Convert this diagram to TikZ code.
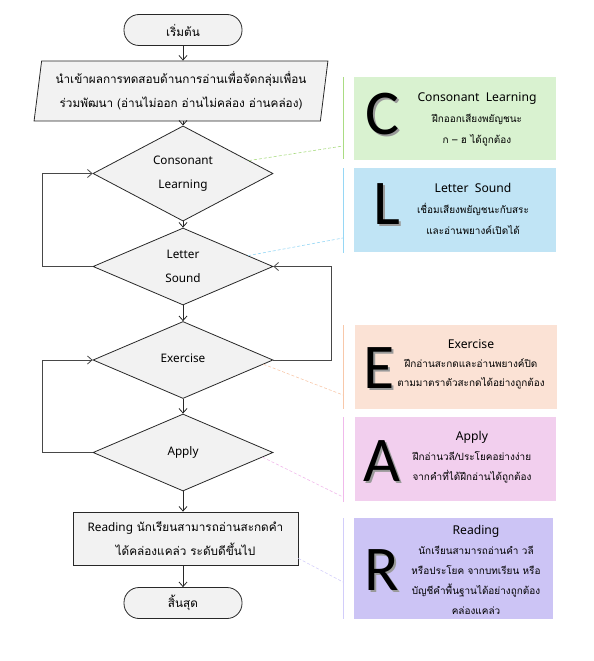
\documentclass[tikz,border=0pt]{standalone}
\usepackage{fontspec}
\setmainfont[Script=Thai]{Loma}
\newfontfamily\latf{Noto Sans}
\newfontfamily\capf{Carlito}
\newcommand\pheadf{\latf\fontsize{12.2}{21}\selectfont}
\newcommand\shadowlet[1]{\rlap{\kern2bp\raisebox{-2bp}{\color{black!40}#1}}#1}
\usetikzlibrary{shapes.geometric,arrows.meta,calc}
\definecolor{flowfill}{RGB}{242,242,242}
\definecolor{flowline}{RGB}{40,40,40}
\definecolor{cfill}{RGB}{217,242,208}
\definecolor{cline}{RGB}{170,220,130}
\definecolor{lfill}{RGB}{192,228,245}
\definecolor{lline}{RGB}{150,215,245}
\definecolor{efill}{RGB}{251,226,213}
\definecolor{eline}{RGB}{248,200,170}
\definecolor{afill}{RGB}{242,207,238}
\definecolor{aline}{RGB}{240,185,235}
\definecolor{rfill}{RGB}{204,196,245}
\definecolor{rline}{RGB}{210,205,250}
\begin{document}
\begin{tikzpicture}[x=1bp,y=-1bp,
  base/.style={draw=flowline, fill=flowfill, line width=0.8bp, inner sep=0pt, align=center,
    font=\fontsize{11.8}{24}\selectfont},
  term/.style={base, rectangle, rounded corners=15bp, minimum width=118bp, minimum height=31bp},
  io/.style={base, trapezium, trapezium left angle=80, trapezium right angle=100,
    trapezium stretches=true, minimum width=295bp, minimum height=60bp},
  dec/.style={base, diamond, minimum width=180bp, minimum height=77bp},
  proc/.style={base, rectangle, minimum width=225bp, minimum height=53bp},
  flow/.style={draw=flowline, line width=0.8bp, -{Straight Barb[length=4.5bp,width=8bp]}},
  loop/.style={flow, draw=flowline!85},
  panel/.style={rectangle, inner sep=0pt, draw=none},
  ptext/.style={align=center, inner sep=0pt, font=\fontsize{10}{21}\selectfont},
  bigl/.style={inner sep=0pt, font=\capf\fontsize{64}{64}\selectfont},
  note/.style={dashed, dash pattern=on 3bp off 2bp, line width=0.6bp},
  brk/.style={line width=0.8bp}
]
\useasboundingbox (0,0) rectangle (594,661);

% ---------- flowchart ----------
\node[term] (start) at (183,30) {เริ่มต้น};
\node[io] (input) at (181,91) {นำเข้าผลการทดสอบด้านการอ่านเพื่อจัดกลุ่มเพื่อน\\ร่วมพัฒนา (อ่านไม่ออก อ่านไม่คล่อง อ่านคล่อง)};
\node[dec] (d1) at (183,173.5) {\latf Consonant\\\latf Learning};
\node[dec] (d2) at (183,266.5) {\latf Letter\\\latf Sound};
\node[dec] (d3) at (183,360) {\raisebox{4bp}{\latf Exercise}};
\node[dec] (d4) at (183,452.5) {\raisebox{1bp}{\latf Apply}};
\node[proc] (proc) at (185.5,538.5) {{\latf Reading} นักเรียนสามารถอ่านสะกดคำ\\ได้คล่องแคล่ว ระดับดีขึ้นไป};
\node[term] (stop) at (183,603) {สิ้นสุด};

\draw[flow] (start) -- (start |- input.north);
\draw[flow] (start |- input.south) -- (d1.north);
\draw[flow] (d1) -- (d2);
\draw[flow] (d2) -- (d3);
\draw[flow] (d3) -- (d4);
\draw[flow] (d4.south) -- (d4.south |- proc.north);
\draw[flow] (d4.south |- proc.south) -- (stop.north);

\draw[loop] (d2.west) -- ++(-50,0) |- (d1.west);
\draw[loop] (d3.east) -- ++(58,0) |- (d2.east);
\draw[loop] (d4.west) -- ++(-50,0) |- (d3.west);

% ---------- panels ----------
\node[panel, fill=cfill, minimum width=202bp, minimum height=83bp] (pC) at (455,118.5) {};
\node[panel, fill=lfill, minimum width=202bp, minimum height=84bp] (pL) at (455,210) {};
\node[panel, fill=efill, minimum width=202bp, minimum height=84bp] (pE) at (456,367) {};
\node[panel, fill=afill, minimum width=201bp, minimum height=84bp] (pA) at (455.5,459) {};
\node[panel, fill=rfill, minimum width=199bp, minimum height=101bp] (pR) at (453.5,568.5) {};

% brackets
\draw[brk, draw=cline] (343,77) -- (343,159);
\draw[brk, draw=lline] (343,168) -- (343,253);
\draw[brk, draw=eline] (343,325) -- (343,409);
\draw[brk, draw=aline] (343,417) -- (343,502);
\draw[brk, draw=rline] (343,518) -- (343,619);

\coordinate (cC) at (343,146);
\coordinate (cL) at (343,238);
\coordinate (cE) at (343,395);
\coordinate (cA) at (343,497);
\coordinate (cR) at (343,582);

\draw[note, draw=cline] ($(d1.north)!0.73!(d1.east)$) -- (cC);
\draw[note, draw=lline] ($(d2.north)!0.72!(d2.east)$) -- (cL);
\draw[note, draw=eline] ($(d3.east)!0.11!(d3.south)$) -- (cE);
\draw[note, draw=aline] ($(d4.east)!0.12!(d4.south)$) -- (cA);
\draw[note, draw=rline] ($(proc.south east)+(0,-7)$) -- (cR);

% big letters (with offset shadow)
\node[bigl] (lC) at (382,115) {\shadowlet{C}};
\node[bigl] (lL) at (387,205) {\shadowlet{L}};
\node[bigl] (lE) at (379,369) {\shadowlet{E}};
\node[bigl] (lA) at (382,462) {\shadowlet{A}};
\node[bigl] (lR) at (382,571) {\shadowlet{R}};

% panel texts
\node[ptext] (tC) at (477,119) {{\pheadf Consonant\ \ Learning}\\ฝึกออกเสียงพยัญชนะ\\ก – ฮ ได้ถูกต้อง};
\node[ptext] (tL) at (473,209) {{\pheadf Letter\ \ Sound}\\เชื่อมเสียงพยัญชนะกับสระ\\และอ่านพยางค์เปิดได้};
\node[ptext, font=\fontsize{10}{19}\selectfont] (tE) at (471,364) {{\pheadf\fontsize{12.2}{19}\selectfont Exercise}\\ฝึกอ่านสะกดและอ่านพยางค์ปิด\\ตามมาตราตัวสะกดได้อย่างถูกต้อง};
\node[ptext, font=\fontsize{10}{20}\selectfont] (tA) at (472,457) {{\pheadf\fontsize{12.2}{20}\selectfont Apply}\\ฝึกอ่านวลี/ประโยคอย่างง่าย\\จากคำที่ได้ฝึกอ่านได้ถูกต้อง};
\node[ptext, font=\fontsize{10}{20}\selectfont] (tR) at (476,570) {{\pheadf\fontsize{12.2}{16}\selectfont Reading}\\นักเรียนสามารถอ่านคำ วลี\\หรือประโยค จากบทเรียน หรือ\\บัญชีคำพื้นฐานได้อย่างถูกต้อง\\คล่องแคล่ว};
\end{tikzpicture}
\end{document}
